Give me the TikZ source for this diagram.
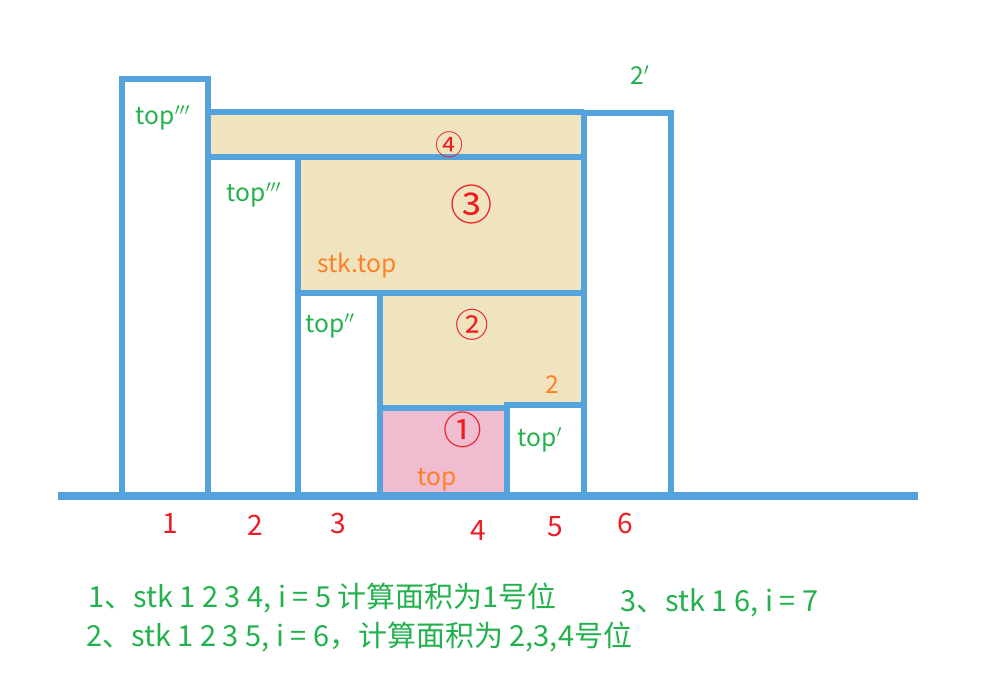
\documentclass[tikz,border=0pt]{standalone}
\usepackage{fontspec}
\setmainfont{Noto Sans CJK SC}
\definecolor{barblue}{RGB}{84,163,220}
\definecolor{areatan}{RGB}{239,228,190}
\definecolor{areapink}{RGB}{240,188,208}
\definecolor{notegreen}{RGB}{34,177,76}
\definecolor{noteorange}{RGB}{255,127,39}
\definecolor{notered}{RGB}{237,28,36}
\tikzset{
  bar/.style={draw=barblue, line width=3.4pt},
  greenlbl/.style={text=notegreen, font=\fontsize{14}{16}\selectfont, inner sep=0pt},
  orangelbl/.style={text=noteorange, font=\fontsize{14}{16}\selectfont, inner sep=0pt},
  redlbl/.style={text=notered, font=\fontsize{16}{18}\selectfont, inner sep=0pt},
  steptext/.style={text=notegreen, font=\fontsize{16.5}{19}\selectfont, anchor=west, inner sep=0pt}
}
\begin{document}
\begin{tikzpicture}[x=0.02cm, y=-0.02cm]
    \useasboundingbox (0,0) rectangle (993,682);

    % Filled areas
    \fill[areatan] (208,112) rectangle (584,157);
    \fill[areatan] (298,157) rectangle (584,293);
    \fill[areatan] (380,293) rectangle (584,408);
    \fill[areapink] (380,408) rectangle (507,496);

    % Bars 1 to 6
    \draw[bar] (122,496) rectangle (208,79);
    \draw[bar] (208,496) rectangle (298,157);
    \draw[bar] (298,496) rectangle (380,293);
    \draw[bar] (380,496) rectangle (507,408);
    \draw[bar] (507,496) rectangle (584,405);
    \draw[bar] (584,496) rectangle (671,113);

    % Edges of the areas
    \draw[bar] (208,112) -- (584,112);
    \draw[bar] (298,157) -- (584,157);
    \draw[bar] (380,293) -- (584,293);

    % Base line
    \draw[draw=barblue, line width=4pt] (58,496) -- (918,496);

    % Green labels
    \node[greenlbl] (top_1) at (163,118) {top$'''$};
    \node[greenlbl] (top_2) at (254,195) {top$'''$};
    \node[greenlbl] (top_3) at (330,326) {top$''$};
    \node[greenlbl] (top_4) at (540,440) {top$'$};
    \node[greenlbl] (two_b) at (640,75) {2$'$};

    % Orange labels
    \node[orangelbl] (stk_top) at (357,266) {stk.top};
    \node[orangelbl] (two_a) at (552,385) {2};
    \node[orangelbl] (top_0) at (437,480) {top};

    % Area numbers
    \node[redlbl] (area_4) at (450,145) {④};
    \node[redlbl, font=\fontsize{24}{26}\selectfont] (area_3) at (472,204) {③};
    \node[redlbl, font=\fontsize{19}{21}\selectfont] (area_2) at (472,325) {②};
    \node[redlbl, font=\fontsize{22}{24}\selectfont] (area_1) at (463,430) {①};

    % Bar numbers
    \node[redlbl] (n_1) at (170,523) {1};
    \node[redlbl] (n_2) at (255,525) {2};
    \node[redlbl] (n_3) at (338,523) {3};
    \node[redlbl] (n_4) at (478,530) {4};
    \node[redlbl] (n_5) at (555,527) {5};
    \node[redlbl] (n_6) at (625,523) {6};

    % Steps
    \node[steptext] (step_1) at (88,598) {1、stk 1 2 3 4, i = 5 计算面积为1号位};
    \node[steptext] (step_2) at (86,637) {2、stk 1 2 3 5, i = 6，计算面积为 2,3,4号位};
    \node[steptext] (step_3) at (620,603) {3、stk 1 6, i = 7};
\end{tikzpicture}
\end{document}
